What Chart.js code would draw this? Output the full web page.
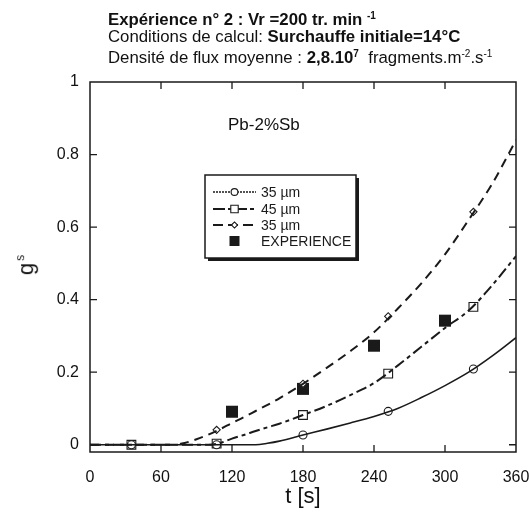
<!DOCTYPE html>
<html><head><meta charset="utf-8">
<script src="https://cdn.jsdelivr.net/npm/chart.js@4"></script>
<style>
body{margin:0;background:#fff;}
#wrap{position:relative;width:529px;height:513px;font-family:"Liberation Sans",Arial,Helvetica,sans-serif;color:#111;}
canvas{position:absolute;left:0;top:0;}
.t{position:absolute;left:108px;white-space:nowrap;font-size:16.8px;line-height:18px;}
.t sup{font-size:10px;vertical-align:6px;line-height:0;}
#ylab{position:absolute;left:16px;top:254px;font-size:22px;line-height:22px;transform:rotate(-90deg);transform-origin:center;white-space:nowrap;}
#ylab sup{font-size:12px;vertical-align:9px;line-height:0;margin-left:2px;}
#note{position:absolute;left:228px;top:115px;font-size:17px;white-space:nowrap;}
</style></head>
<body><div id="wrap">
<canvas id="c" width="529" height="513"></canvas>
<div class="t" style="top:11px"><b>Expérience n° 2 : Vr =200 tr. min <sup>-1</sup></b></div>
<div class="t" style="top:28px">Conditions de calcul: <b>Surchauffe initiale=14°C</b></div>
<div class="t" style="top:49px">Densité de flux moyenne : <b>2,8.10<sup>7</sup></b>&nbsp; fragments.m<sup>-2</sup>.s<sup>-1</sup></div>
<div id="ylab">g<sup>s</sup></div>
<div id="note">Pb-2%Sb</div>
</div>
<script>
// ---- data ----
const curveT      = [0, 20, 40, 60, 70, 80, 90, 100, 110, 120, 130, 140, 150, 160, 180, 200, 220, 240, 260, 280, 300, 320, 340, 360];
const solid35     = [0, 0, 0, 0, 0, 0, 0, 0, 0, 0, 0, 0, 0.004, 0.010, 0.027, 0.043, 0.060, 0.078, 0.100, 0.130, 0.163, 0.200, 0.245, 0.295];
const dashdot45   = [0, 0, 0, 0, 0, 0, 0, 0, 0.005, 0.017, 0.027, 0.038, 0.048, 0.058, 0.082, 0.107, 0.137, 0.170, 0.218, 0.270, 0.322, 0.370, 0.440, 0.520];
const dashed35    = [0, 0, 0, 0, 0, 0.005, 0.015, 0.028, 0.043, 0.060, 0.076, 0.093, 0.110, 0.128, 0.168, 0.212, 0.258, 0.310, 0.375, 0.445, 0.525, 0.620, 0.720, 0.840];
const markerT     = [35, 107, 180, 252, 324];
const circleVals  = [0, 0, 0.027, 0.092, 0.209];
const squareVals  = [0, 0.003, 0.082, 0.196, 0.380];
const diamondVals = [0, 0.041, 0.168, 0.354, 0.642];
const expT        = [120, 180, 240, 300];
const expVals     = [0.091, 0.154, 0.273, 0.342];
const xTicks      = [0, 60, 120, 180, 240, 300, 360];
const yTicks      = [0, 0.2, 0.4, 0.6, 0.8, 1];
const legendLabels = ['35 µm', '45 µm', '35 µm', 'EXPERIENCE'];

const pts = (xs, ys) => xs.map((x, i) => ({x, y: ys[i]}));
const INK = '#1a1a1a';
const lineStyles = [
  {dash: [], width: 1.6},
  {dash: [11, 4, 4, 4], width: 2},
  {dash: [9, 6], width: 2}
];
const legendDash = [[2, 1], [12, 3, 4, 3], [10, 5]];
const markerStyles = [
  {style: 'circle', r: 4},
  {style: 'rect', r: 6.2},
  {style: 'rectRot', r: 3.6}
];

const lineDs = (ys, k) => ({
  data: pts(curveT, ys), showLine: true, pointRadius: 0, borderColor: INK,
  borderWidth: lineStyles[k].width, borderDash: lineStyles[k].dash,
  cubicInterpolationMode: 'monotone', fill: false
});
const markDs = (ys, k) => ({
  data: pts(markerT, ys), showLine: false, pointStyle: markerStyles[k].style,
  pointRadius: markerStyles[k].r, backgroundColor: '#fff', borderColor: INK, pointBorderWidth: 1.1
});

Chart.defaults.font.family = '"Liberation Sans", Arial, Helvetica, sans-serif';
Chart.defaults.color = '#111';

const frame = {
  id: 'frame',
  afterDraw(chart) {
    const {ctx, chartArea: a, scales: {x, y}} = chart;
    ctx.save();
    ctx.strokeStyle = INK;
    ctx.lineWidth = 1.5;
    ctx.strokeRect(a.left, a.top, a.right - a.left, a.bottom - a.top);
    ctx.lineWidth = 1.3;
    ctx.beginPath();
    xTicks.forEach(v => {
      if (v <= 0 || v >= 360) return;
      const px = x.getPixelForValue(v);
      ctx.moveTo(px, a.bottom); ctx.lineTo(px, a.bottom - 7);
      ctx.moveTo(px, a.top); ctx.lineTo(px, a.top + 7);
    });
    yTicks.forEach(v => {
      if (v >= 1) return;
      const py = y.getPixelForValue(v);
      ctx.moveTo(a.left, py); ctx.lineTo(a.left + 7, py);
      ctx.moveTo(a.right, py); ctx.lineTo(a.right - 7, py);
    });
    ctx.stroke();

    // legend box
    const bx = 205, by = 175, bw = 151, bh = 83;
    ctx.fillStyle = INK;
    ctx.fillRect(bx + 3, by + 3, bw, bh);
    ctx.fillStyle = '#fff';
    ctx.fillRect(bx, by, bw, bh);
    ctx.lineWidth = 1.5;
    ctx.strokeRect(bx, by, bw, bh);
    const rows = [192, 209, 225, 241];
    ctx.font = '14px "Liberation Sans", Arial, sans-serif';
    ctx.textBaseline = 'middle';
    rows.forEach((ry, i) => {
      const x0 = 213, x1 = 256, xm = (x0 + x1) / 2;
      if (i < 3) {
        ctx.save();
        ctx.strokeStyle = INK;
        ctx.lineWidth = lineStyles[i].width;
        ctx.setLineDash(legendDash[i]);
        ctx.beginPath(); ctx.moveTo(x0, ry); ctx.lineTo(x1, ry); ctx.stroke();
        ctx.setLineDash([]);
        ctx.fillStyle = '#fff'; ctx.strokeStyle = INK; ctx.lineWidth = 1.1;
        Chart.helpers.drawPoint(ctx, {pointStyle: markerStyles[i].style, radius: markerStyles[i].r * 0.85, borderWidth: 1.1}, xm, ry);
        ctx.restore();
      } else {
        ctx.fillStyle = INK;
        ctx.fillRect(xm - 5, ry - 5, 10, 10);
      }
      ctx.fillStyle = INK;
      ctx.textAlign = 'left';
      ctx.fillText(legendLabels[i], 261, ry + 1);
    });
    ctx.restore();
  }
};

new Chart(document.getElementById('c'), {
  type: 'scatter',
  data: {
    datasets: [
      lineDs(solid35, 0), lineDs(dashdot45, 1), lineDs(dashed35, 2),
      markDs(circleVals, 0), markDs(squareVals, 1), markDs(diamondVals, 2),
      {data: pts(expT, expVals), showLine: false, pointStyle: 'rect', pointRadius: 8.5,
       backgroundColor: INK, borderColor: INK, pointBorderWidth: 0}
    ]
  },
  options: {
    responsive: false, animation: false,
    layout: {padding: {top: 82, right: 13, left: 0, bottom: 0}},
    plugins: {legend: {display: false}, tooltip: {enabled: false}},
    scales: {
      x: {
        type: 'linear', min: 0, max: 360,
        afterBuildTicks: s => { s.ticks = xTicks.map(v => ({value: v})); },
        afterFit: s => { s.height = 61; s.paddingLeft = 0; s.paddingRight = 0; },
        grid: {display: false, drawTicks: false}, border: {display: false},
        ticks: {font: {size: 16}, padding: 16, color: '#111', maxRotation: 0},
        title: {display: true, text: 't [s]', font: {size: 22}, color: '#111', padding: {top: 0, bottom: 3}}
      },
      y: {
        min: -0.02, max: 1,
        afterBuildTicks: s => { s.ticks = yTicks.map(v => ({value: v})); },
        afterFit: s => { s.width = 90; s.paddingTop = 0; s.paddingBottom = 0; },
        grid: {display: false, drawTicks: false}, border: {display: false},
        ticks: {font: {size: 16}, padding: 11, color: '#111', callback: v => String(Math.round(v * 10) / 10)}
      }
    }
  },
  plugins: [frame]
});
</script>
</body></html>
